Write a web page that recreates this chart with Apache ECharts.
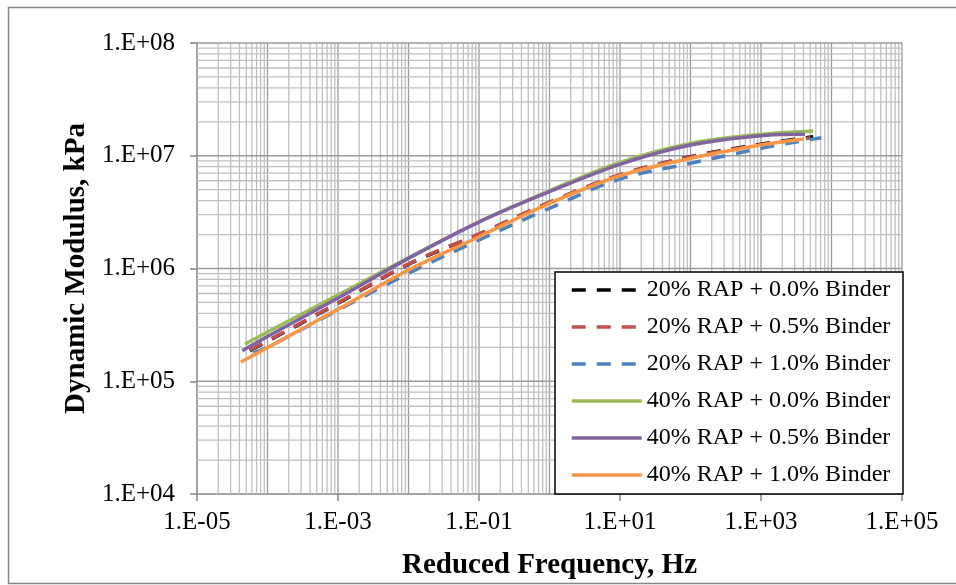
<!DOCTYPE html>
<html>
<head>
<meta charset="utf-8">
<script src="https://cdn.jsdelivr.net/npm/echarts@6/dist/echarts.min.js"></script>
<style>
html,body{margin:0;padding:0;background:#fff;}
#chart{width:956px;height:585px;}
</style>
</head>
<body>
<div id="chart"></div>
<script>
// ---- data ----
const seriesNames = [
  '20% RAP + 0.0% Binder',
  '20% RAP + 0.5% Binder',
  '20% RAP + 1.0% Binder',
  '40% RAP + 0.0% Binder',
  '40% RAP + 0.5% Binder',
  '40% RAP + 1.0% Binder'
];
// reduced frequency, Hz
const freqRap20_00 = [5.6e-5, 1e-4, 1e-3, 1e-2, 1e-1, 1, 10, 100, 1000, 5500];
const freqRap20_05 = [5.6e-5, 1e-4, 1e-3, 1e-2, 1e-1, 1, 10, 100, 1000, 5000];
const freqRap20_10 = [6.3e-5, 1e-4, 1e-3, 1e-2, 1e-1, 1, 10, 100, 1000, 7200];
const freqRap40_00 = [4.8e-5, 1e-4, 1e-3, 1e-2, 1e-1, 1, 10, 100, 1000, 5500];
const freqRap40_05 = [4.4e-5, 1e-4, 1e-3, 1e-2, 1e-1, 1, 10, 100, 1000, 4200];
const freqRap40_10 = [4.2e-5, 1e-4, 1e-3, 1e-2, 1e-1, 1, 10, 100, 1000, 4000];
// dynamic modulus, kPa
const modRap20_00 = [1.87e5, 2.265e5, 4.91e5, 1.089e6, 2.01e6, 3.85e6, 6.76e6, 9.82e6, 1.265e7, 1.476e7];
const modRap20_05 = [1.884e5, 2.28e5, 4.955e5, 1.096e6, 2.032e6, 3.873e6, 6.79e6, 9.77e6, 1.253e7, 1.439e7];
const modRap20_10 = [1.78e5, 1.995e5, 4.27e5, 9.06e5, 1.79e6, 3.42e6, 6.22e6, 8.57e6, 1.164e7, 1.445e7];
const modRap40_00 = [2.14e5, 2.73e5, 5.82e5, 1.245e6, 2.6e6, 4.9e6, 8.75e6, 1.288e7, 1.549e7, 1.66e7];
const modRap40_05 = [1.866e5, 2.49e5, 5.47e5, 1.23e6, 2.582e6, 4.8e6, 8.4e6, 1.245e7, 1.507e7, 1.549e7];
const modRap40_10 = [1.483e5, 1.986e5, 4.345e5, 9.7e5, 1.914e6, 3.784e6, 6.65e6, 9.48e6, 1.245e7, 1.409e7];

const xMin = 1e-5, xMax = 1e5, yMin = 1e4, yMax = 1e8;

// ---- build ----
const freqs = [freqRap20_00, freqRap20_05, freqRap20_10, freqRap40_00, freqRap40_05, freqRap40_10];
const mods = [modRap20_00, modRap20_05, modRap20_10, modRap40_00, modRap40_05, modRap40_10];
const colors = ['#000000', '#C0504D', '#4F81BD', '#9BBB59', '#8064A2', '#F79646'];
const dashed = [true, true, true, false, false, false];

function pairs(xs, ys) { return xs.map((x, i) => [x, ys[i]]); }

// grid lines (1..9 x 10^k), kind: 0 = minor vertical, 1 = major vertical, 2 = minor horizontal, 3 = major horizontal
const gridData = [];
for (let e = -5; e < 5; e++) {
  for (let m = 1; m <= 9; m++) {
    const v = m * Math.pow(10, e);
    if (e === -5 && m === 1) continue;
    gridData.push([v, 1e6, m === 1 ? 1 : 0]);
  }
}
gridData.push([xMax, 1e6, 1]);
for (let e = 4; e < 8; e++) {
  for (let m = 1; m <= 9; m++) {
    const v = m * Math.pow(10, e);
    if (e === 4 && m === 1) continue;
    gridData.push([1, v, m === 1 ? 3 : 2]);
  }
}
gridData.push([1, yMax, 3]);

const FONT = '"Liberation Serif", "Times New Roman", serif';
function expLabel(v) {
  const e = Math.round(Math.log10(v));
  const s = e < 0 ? '-' : '+';
  return '1.E' + s + String(Math.abs(e)).padStart(2, '0');
}

const series = [{
  type: 'custom',
  name: 'grid',
  z: 1,
  silent: true,
  dimensions: ['x', 'y', 'kind'],
  encode: { x: 0, y: 1 },
  data: gridData,
  renderItem: function (params, api) {
    const kind = api.value(2);
    let p1, p2;
    if (kind < 2) {
      const v = api.value(0);
      p1 = api.coord([v, yMin]); p2 = api.coord([v, yMax]);
    } else {
      const v = api.value(1);
      p1 = api.coord([xMin, v]); p2 = api.coord([xMax, v]);
    }
    const major = (kind === 1 || kind === 3);
    return {
      type: 'line',
      shape: { x1: p1[0], y1: p1[1], x2: p2[0], y2: p2[1] },
      style: { stroke: major ? '#9a9a9a' : '#c0c0c0', lineWidth: 1.3 }
    };
  }
}];

seriesNames.forEach((name, i) => {
  series.push({
    type: 'line',
    name: name,
    z: 2,
    smooth: 0.35,
    symbol: 'none',
    data: pairs(freqs[i], mods[i]),
    lineStyle: {
      color: colors[i],
      width: 3.5,
      type: dashed[i] ? [14, 11] : 'solid'
    },
    itemStyle: { color: colors[i] },
    emphasis: { disabled: true }
  });
});

const chart = echarts.init(document.getElementById('chart'), null, { renderer: 'canvas' });
chart.setOption({
  animation: false,
  backgroundColor: '#ffffff',
  grid: { left: 197, top: 43, right: 54, bottom: 91, containLabel: false },
  xAxis: {
    type: 'log',
    min: xMin, max: xMax,
    interval: 2,
    name: 'Reduced Frequency, Hz',
    nameLocation: 'middle',
    nameGap: 57,
    nameTextStyle: { fontFamily: FONT, fontSize: 29, fontWeight: 'bold', color: '#000' },
    axisLine: { lineStyle: { color: '#868686', width: 1.5 } },
    axisTick: { show: true, inside: false, length: 7, lineStyle: { color: '#868686', width: 1.5 } },
    axisLabel: { formatter: expLabel, fontFamily: FONT, fontSize: 25, color: '#000', margin: 16 },
    splitLine: { show: false },
    minorTick: { show: false }
  },
  yAxis: {
    type: 'log',
    min: yMin, max: yMax,
    interval: 1,
    name: 'Dynamic Modulus, kPa',
    nameLocation: 'middle',
    nameGap: 101,
    nameTextStyle: { fontFamily: FONT, fontSize: 29, fontWeight: 'bold', color: '#000' },
    axisLine: { lineStyle: { color: '#868686', width: 1.5 } },
    axisTick: { show: true, inside: false, length: 7, lineStyle: { color: '#868686', width: 1.5 } },
    axisLabel: { formatter: expLabel, fontFamily: FONT, fontSize: 25, color: '#000', margin: 22 },
    splitLine: { show: false }
  },
  legend: {
    data: seriesNames,
    orient: 'vertical',
    left: 570,
    top: 278,
    itemWidth: 70,
    itemHeight: 12,
    itemGap: 13,
    padding: 0,
    z: 10,
    selectedMode: false,
    itemStyle: { opacity: 0 },
    lineStyle: { width: 3.5 },
    textStyle: { fontFamily: FONT, fontSize: 24, color: '#000', lineHeight: 24 }
  },
  graphic: [
    { type: 'rect', z: 5, silent: true,
      shape: { x: 555, y: 272, width: 348, height: 222 },
      style: { fill: '#ffffff', stroke: '#000000', lineWidth: 1.5 } },
    { type: 'rect', z: 0, silent: true,
      shape: { x: 8.5, y: 7.5, width: 960, height: 576 },
      style: { fill: 'none', stroke: '#868686', lineWidth: 1.5 } }
  ],
  series: series
});
</script>
</body>
</html>
